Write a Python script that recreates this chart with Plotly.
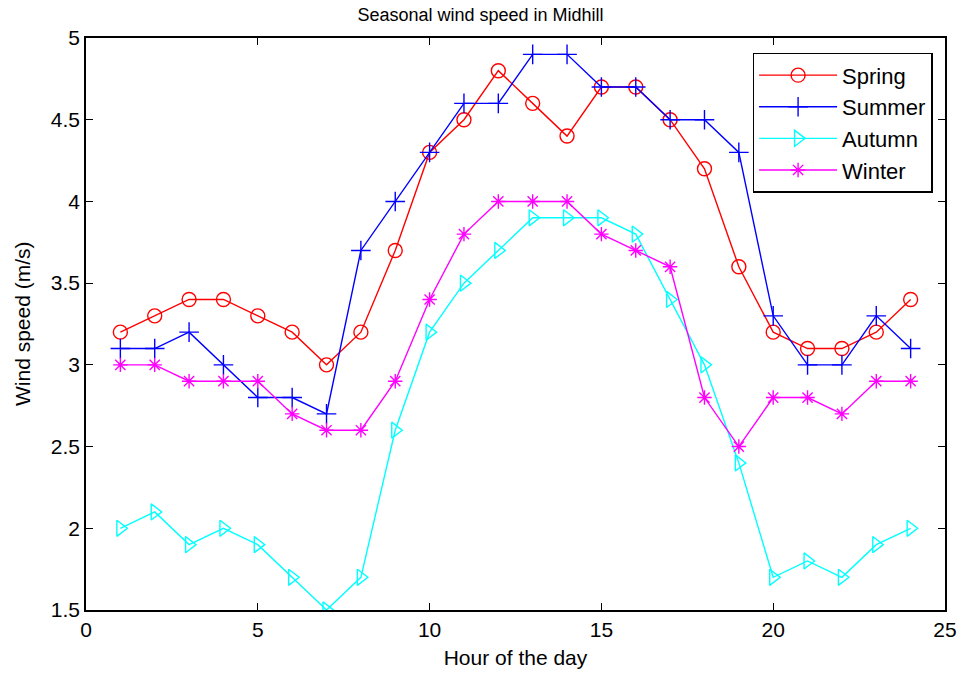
import plotly.graph_objects as go

hours = list(range(1, 25))
spring = [3.2, 3.3, 3.4, 3.4, 3.3, 3.2, 3.0, 3.2, 3.7, 4.3, 4.5, 4.8, 4.6, 4.4, 4.7, 4.7, 4.5, 4.2, 3.6, 3.2, 3.1, 3.1, 3.2, 3.4]
summer = [3.1, 3.1, 3.2, 3.0, 2.8, 2.8, 2.7, 3.7, 4.0, 4.3, 4.6, 4.6, 4.9, 4.9, 4.7, 4.7, 4.5, 4.5, 4.3, 3.3, 3.0, 3.0, 3.3, 3.1]
autumn = [2.0, 2.1, 1.9, 2.0, 1.9, 1.7, 1.5, 1.7, 2.6, 3.2, 3.5, 3.7, 3.9, 3.9, 3.9, 3.8, 3.4, 3.0, 2.4, 1.7, 1.8, 1.7, 1.9, 2.0]
winter = [3.0, 3.0, 2.9, 2.9, 2.9, 2.7, 2.6, 2.6, 2.9, 3.4, 3.8, 4.0, 4.0, 4.0, 3.8, 3.7, 3.6, 2.8, 2.5, 2.8, 2.8, 2.7, 2.9, 2.9]

series = [
    ("Spring", spring, "#ff0000", "circle-open", 14),
    ("Summer", summer, "#0000ff", "cross-thin-open", 14),
    ("Autumn", autumn, "#00ffff", "triangle-right-open", 14),
    ("Winter", winter, "#ff00ff", "asterisk-open", 12),
]

FONT = "Liberation Sans, Arial"

fig = go.Figure()
for name, vals, color, sym, sz in series:
    fig.add_trace(go.Scatter(
        x=hours, y=vals, name=name, mode="lines+markers",
        line=dict(color=color, width=1.4),
        marker=dict(symbol=sym, size=sz, color=color, line=dict(color=color, width=1.4)),
    ))

axis_common = dict(
    showgrid=False, zeroline=False, showline=True, linecolor="black", linewidth=1.5,
    mirror="ticks", ticks="inside", ticklen=7, tickcolor="black", tickwidth=1.2,
    tickfont=dict(family=FONT, size=21, color="black"), automargin=False,
)

fig.update_layout(
    width=961, height=677,
    margin=dict(l=86, r=16, t=38, b=67),
    paper_bgcolor="white", plot_bgcolor="white",
    title=dict(text="Seasonal wind speed in Midhill", x=0.5, xanchor="center", y=0.979, yanchor="middle",
               font=dict(family=FONT, size=18, color="black")),
    xaxis=dict(range=[0, 25], dtick=5, title=dict(text="Hour of the day", standoff=10,
               font=dict(family=FONT, size=21, color="black")), **axis_common),
    yaxis=dict(range=[1.5, 5], dtick=0.5, **axis_common),
    legend=dict(x=0.776, y=0.974, xanchor="left", yanchor="top", bordercolor="black", borderwidth=1.5,
                bgcolor="white", font=dict(family=FONT, size=22, color="black"),
                itemwidth=78, tracegroupgap=0),
    showlegend=True,
    annotations=[dict(text="Wind speed (m/s)", textangle=-90, xref="paper", yref="paper",
                      x=-0.0745, y=0.5, xanchor="center", yanchor="middle", showarrow=False,
                      font=dict(family=FONT, size=21, color="black"))],
)

fig.write_html("out.html")
